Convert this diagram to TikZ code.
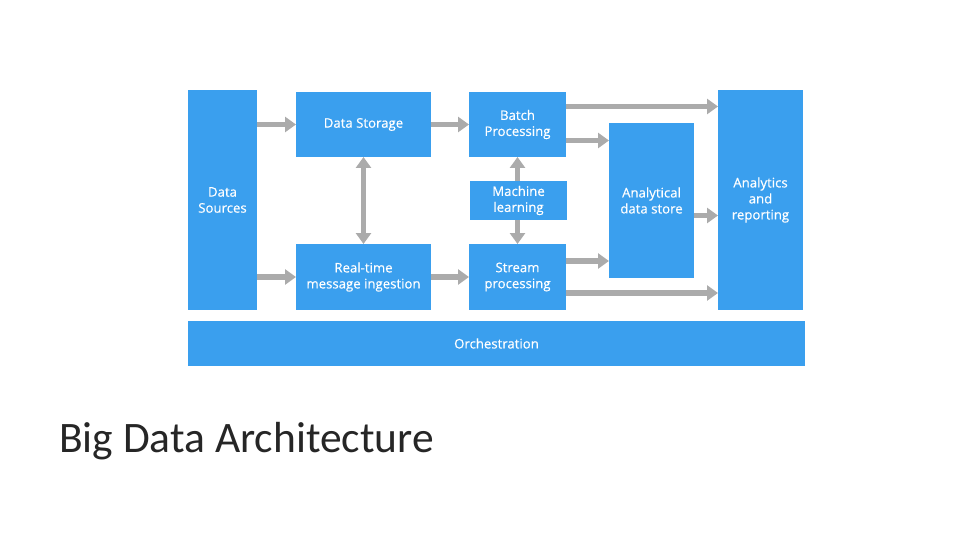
\documentclass[tikz,border=0pt]{standalone}
\usepackage{fontspec}
\setmainfont{Carlito}
\newfontfamily\boxfont[FakeBold=0.4]{Open Sans}
\usetikzlibrary{arrows.meta}
\definecolor{azblue}{HTML}{3A9FEE}
\definecolor{azgray}{HTML}{ABABAB}

\begin{document}
\begin{tikzpicture}[x=1pt, y=-1pt, box/.style={fill=azblue, draw=none, inner sep=0pt, outer sep=0pt, align=center, text=white, font=\boxfont\fontsize{13.2}{16}\selectfont}, flow/.style={draw=azgray, line width=5.5pt, -{Triangle[length=11pt, width=15pt]}}, both/.style={flow, {Triangle[length=11pt, width=15pt]}-{Triangle[length=11pt, width=15pt]}}]
\useasboundingbox (0,0) rectangle (960,540);
\node[box, minimum width=69pt, minimum height=220pt] (src) at (222.5,200) {Data\\Sources};
\node[box, minimum width=135pt, minimum height=65pt] (store) at (363.5,124.5) {Data Storage};
\node[box, minimum width=135pt, minimum height=66pt] (ingest) at (363.5,277) {Real-time\\message ingestion};
\node[box, minimum width=97pt, minimum height=65pt] (batch) at (517.5,124.5) {Batch\\Processing};
\node[box, minimum width=97pt, minimum height=39pt] (ml) at (518.5,200.5) {Machine\\learning};
\node[box, minimum width=97pt, minimum height=66pt] (stream) at (517.5,277) {Stream\\processing};
\node[box, minimum width=85pt, minimum height=155pt] (ads) at (651.5,200.5) {Analytical\\data store};
\node[box, minimum width=85pt, minimum height=220pt] (rep) at (760.5,200) {Analytics\\and\\reporting};
\node[box, minimum width=617pt, minimum height=45pt] (orch) at (496.5,343.5) {Orchestration};
\node[anchor=base west, inner sep=0pt, text=black!85, font=\fontsize{43.5}{48}\selectfont] (title) at (59,452) {Big Data Architecture};
% connectors
\draw[flow] (src.east |- store.west) -- (store.west);
\draw[flow] (src.east |- ingest.west) -- (ingest.west);
\draw[flow] (store) -- (batch);
\draw[flow] (ingest) -- (stream);
\draw[both] (store) -- (ingest);
\draw[flow] (ml.north -| batch.south) -- (batch.south);
\draw[flow] (ml.south -| stream.north) -- (stream.north);
\draw[flow] ([yshift=18pt]batch.east) -- ([yshift=18pt]batch.east -| rep.west);
\draw[flow] ([yshift=-16pt]batch.east) -- ([yshift=-16pt]batch.east -| ads.west);
\draw[flow] ([yshift=16pt]stream.east) -- ([yshift=16pt]stream.east -| ads.west);
\draw[flow] ([yshift=-16pt]stream.east) -- ([yshift=-16pt]stream.east -| rep.west);
\draw[flow] ([yshift=-15pt]ads.east) -- ([yshift=-15pt]ads.east -| rep.west);
\end{tikzpicture}
\end{document}
